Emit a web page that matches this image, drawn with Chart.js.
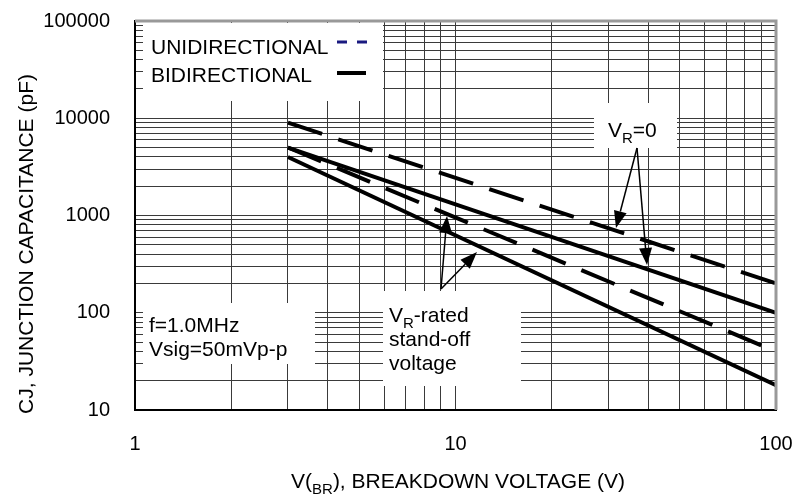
<!DOCTYPE html>
<html>
<head>
<meta charset="utf-8">
<script src="https://cdn.jsdelivr.net/npm/chart.js@4.4.1/dist/chart.umd.min.js"></script>
<style>
  html, body { margin: 0; padding: 0; background: #fff; }
  #wrap { width: 794px; height: 496px; }
</style>
</head>
<body>
<div id="wrap"><canvas id="myChart" width="794" height="496"></canvas></div>
<script>
// breakdown voltage (V) at the two ends of each curve
const voltage = [3, 100];
// junction capacitance (pF)
const uniZero = [9000, 200];
const uniRated = [5000, 40];
const biZero = [5000, 100];
const biRated = [4000, 18];

const seriesNames = ['UNIDIRECTIONAL', 'BIDIRECTIONAL'];
const xTickLabels = [1, 10, 100];
const yTickLabels = [10, 100, 1000, 10000, 100000];

const FONT = '"Liberation Sans", Arial, sans-serif';
const TXT = 21;

function points(ys) {
    return voltage.map((v, i) => ({ x: v, y: ys[i] }));
}

// grid lines at 1..9 of every decade
function logGrid(min, max) {
    const vals = [];
    for (let d = min; d < max; d *= 10) {
        for (let k = 1; k < 10; k++) vals.push(d * k);
    }
    vals.push(max);
    return vals;
}

// text with subscript parts: [[text, isSub], ...]
function subWidth(ctx, parts, size) {
    let w = 0;
    parts.forEach(p => {
        ctx.font = (p[1] ? Math.round(size * 0.7) : size) + 'px ' + FONT;
        w += ctx.measureText(p[0]).width;
    });
    return w;
}
function drawSub(ctx, parts, x, y, size) {
    parts.forEach(p => {
        ctx.font = (p[1] ? Math.round(size * 0.7) : size) + 'px ' + FONT;
        ctx.fillText(p[0], x, p[1] ? y + size * 0.3 : y);
        x += ctx.measureText(p[0]).width;
    });
}

function arrow(ctx, x0, y0, x1, y1) {
    const a = Math.atan2(y1 - y0, x1 - x0);
    const len = 17, half = 6.5;
    const bx = x1 - len * Math.cos(a), by = y1 - len * Math.sin(a);
    ctx.beginPath();
    ctx.moveTo(x0, y0);
    ctx.lineTo(bx, by);
    ctx.lineWidth = 1.5;
    ctx.stroke();
    ctx.beginPath();
    ctx.moveTo(x1, y1);
    ctx.lineTo(bx + half * Math.sin(a), by - half * Math.cos(a));
    ctx.lineTo(bx - half * Math.sin(a), by + half * Math.cos(a));
    ctx.closePath();
    ctx.fill();
}

const overlay = {
    id: 'overlay',
    beforeDatasetsDraw(chart) {
        const ctx = chart.ctx;
        ctx.save();
        ctx.fillStyle = '#fff';
        // blank areas behind the notes
        ctx.fillRect(143, 23, 240, 78);
        ctx.fillRect(594, 103, 83, 45);
        ctx.fillRect(143, 303, 172, 61);
        ctx.fillRect(383, 291, 138, 95);
        ctx.restore();
    },
    afterDatasetsDraw(chart) {
        const ctx = chart.ctx;
        const area = chart.chartArea;
        ctx.save();
        // frame top/right
        ctx.strokeStyle = '#999';
        ctx.lineWidth = 3;
        ctx.beginPath();
        ctx.moveTo(area.left, area.top);
        ctx.lineTo(area.right, area.top);
        ctx.lineTo(area.right, area.bottom);
        ctx.stroke();

        ctx.fillStyle = '#000';
        ctx.strokeStyle = '#000';
        ctx.textBaseline = 'alphabetic';
        ctx.textAlign = 'left';

        // legend
        ctx.font = TXT + 'px ' + FONT;
        ctx.fillText(seriesNames[0], 151, 54);
        ctx.fillText(seriesNames[1], 151, 82);
        ctx.lineWidth = 3;
        ctx.strokeStyle = '#1a1a80';
        ctx.setLineDash([10, 10]);
        ctx.beginPath();
        ctx.moveTo(337, 42);
        ctx.lineTo(368, 42);
        ctx.stroke();
        ctx.setLineDash([]);
        ctx.strokeStyle = '#000';
        ctx.lineWidth = 4;
        ctx.beginPath();
        ctx.moveTo(337, 73);
        ctx.lineTo(366, 73);
        ctx.stroke();

        // notes
        drawSub(ctx, [['V', false], ['R', true], ['=0', false]], 608, 137, TXT);
        ctx.font = TXT + 'px ' + FONT;
        ctx.fillText('f=1.0MHz', 149, 332);
        ctx.fillText('Vsig=50mVp-p', 149, 356);
        drawSub(ctx, [['V', false], ['R', true], ['-rated', false]], 389, 322, TXT);
        ctx.font = TXT + 'px ' + FONT;
        ctx.fillText('stand-off', 389, 346);
        ctx.fillText('voltage', 389, 370);

        // arrows
        arrow(ctx, 637, 148, 616, 228);
        arrow(ctx, 637, 148, 647, 265);
        arrow(ctx, 441, 289, 447, 216);
        arrow(ctx, 441, 289, 477, 252);

        // axis titles
        const xt = [['V(', false], ['BR', true], ['), BREAKDOWN VOLTAGE (V)', false]];
        const w = subWidth(ctx, xt, TXT);
        drawSub(ctx, xt, 458 - w / 2, 488, TXT);

        ctx.translate(33, 244);
        ctx.rotate(-Math.PI / 2);
        ctx.textAlign = 'center';
        ctx.font = TXT + 'px ' + FONT;
        ctx.fillText('CJ, JUNCTION CAPACITANCE (pF)', 0, 0);
        ctx.restore();
    }
};

const dashed = [36, 17];

const ctx = document.getElementById('myChart').getContext('2d');
const myChart = new Chart(ctx, {
    type: 'line',
    data: {
        datasets: [
            { label: 'UNIDIRECTIONAL V_R=0', data: points(uniZero), borderDash: dashed },
            { label: 'UNIDIRECTIONAL V_R-rated', data: points(uniRated), borderDash: dashed },
            { label: 'BIDIRECTIONAL V_R=0', data: points(biZero) },
            { label: 'BIDIRECTIONAL V_R-rated', data: points(biRated) }
        ]
    },
    options: {
        responsive: false,
        animation: false,
        layout: { padding: { left: 0, top: 21, right: 18, bottom: 0 } },
        elements: {
            line: { borderColor: '#000', borderWidth: 4, tension: 0, borderCapStyle: 'butt' },
            point: { radius: 0 }
        },
        plugins: { legend: { display: false }, tooltip: { enabled: false } },
        scales: {
            x: {
                type: 'logarithmic',
                min: 1,
                max: 100,
                afterBuildTicks: s => { s.ticks = logGrid(1, 100).map(v => ({ value: v })); },
                afterFit: s => { s.height = 86; s.paddingLeft = 0; s.paddingRight = 0; },
                grid: { color: '#3a3a3a', lineWidth: 1, drawTicks: false },
                border: { color: '#000', width: 2 },
                ticks: {
                    autoSkip: false,
                    maxRotation: 0,
                    padding: 22,
                    color: '#000',
                    font: { family: FONT, size: 20 },
                    callback: v => xTickLabels.includes(v) ? String(v) : ''
                }
            },
            y: {
                type: 'logarithmic',
                min: 10,
                max: 100000,
                afterBuildTicks: s => { s.ticks = logGrid(10, 100000).map(v => ({ value: v })); },
                afterFit: s => { s.width = 135; s.paddingTop = 0; s.paddingBottom = 0; },
                grid: { color: '#3a3a3a', lineWidth: 1, drawTicks: false },
                border: { color: '#000', width: 2 },
                ticks: {
                    autoSkip: false,
                    padding: 25,
                    color: '#000',
                    font: { family: FONT, size: 20 },
                    callback: v => yTickLabels.includes(v) ? String(v) : ''
                }
            }
        }
    },
    plugins: [overlay]
});
</script>
</body>
</html>
